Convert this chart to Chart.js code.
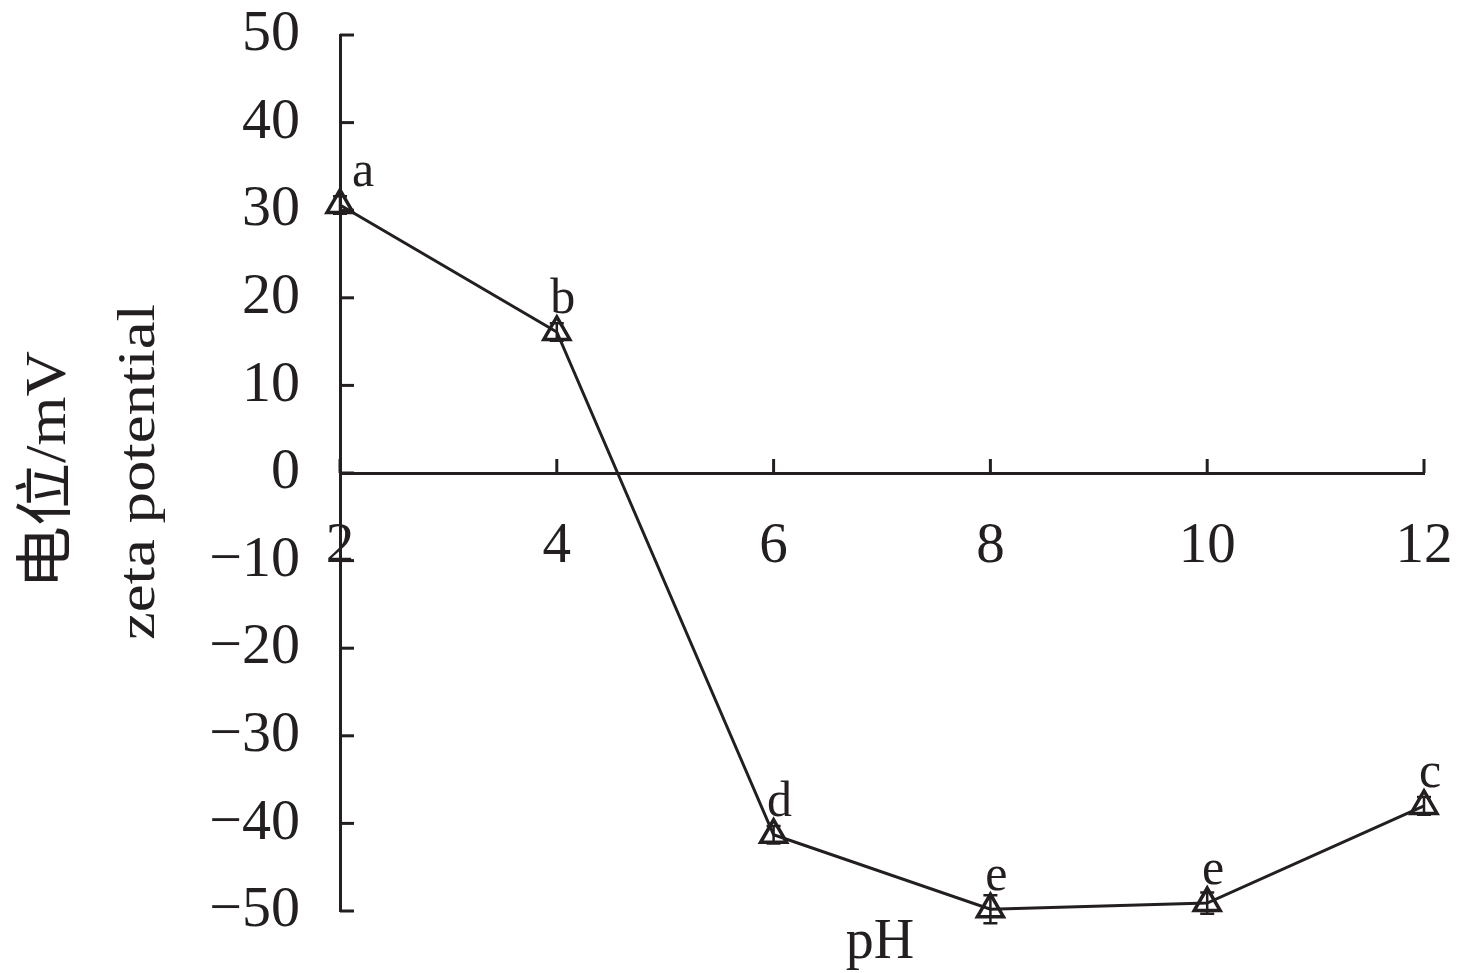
<!DOCTYPE html>
<html>
<head>
<meta charset="utf-8">
<script src="https://cdn.jsdelivr.net/npm/chart.js@4"></script>
<style>
html,body{margin:0;padding:0;background:#fff;}
#wrap{width:1476px;height:973px;}
</style>
</head>
<body>
<div id="wrap"><canvas id="grafico" width="1476" height="973"></canvas></div>
<script>
// dados
const phValues = [2, 4, 6, 8, 10, 12];
const zeta = [30.6, 16.1, -41.3, -49.8, -49.1, -38.0];
const errs = [1.0, 1.0, 1.0, 1.6, 1.2, 1.0];
const letters = ["a", "b", "d", "e", "e", "c"];
const xTicks = [2, 4, 6, 8, 10, 12];
const yTicks = [50, 40, 30, 20, 10, 0, -10, -20, -30, -40, -50];

const serif = "'Liberation Serif', 'Times New Roman', 'Noto Sans CJK SC', serif";
const ink = "#231f20";

// ticks para dentro, barras de erro, letras e títulos
const extras = {
  id: "extras",
  afterDatasetsDraw(chart) {
    const c = chart.ctx;
    const xs = chart.scales.x, ys = chart.scales.y;
    const left = chart.chartArea.left;
    const y0 = ys.getPixelForValue(0);
    c.save();
    c.strokeStyle = ink;
    c.lineWidth = 3;
    yTicks.forEach(v => {
      const py = ys.getPixelForValue(v);
      c.beginPath(); c.moveTo(left, py); c.lineTo(left + 14, py); c.stroke();
    });
    xTicks.forEach(v => {
      const px = xs.getPixelForValue(v);
      c.beginPath(); c.moveTo(px, y0); c.lineTo(px, y0 - 14); c.stroke();
    });
    // barras de erro
    c.lineWidth = 2.5;
    phValues.forEach((x, i) => {
      const px = xs.getPixelForValue(x);
      const hi = ys.getPixelForValue(zeta[i] + errs[i]);
      const lo = ys.getPixelForValue(zeta[i] - errs[i]);
      c.beginPath();
      c.moveTo(px, hi); c.lineTo(px, lo);
      c.moveTo(px - 7, hi); c.lineTo(px + 7, hi);
      c.moveTo(px - 7, lo); c.lineTo(px + 7, lo);
      c.stroke();
    });
    // letras
    c.fillStyle = ink;
    c.font = "50px " + serif;
    c.textAlign = "center";
    c.textBaseline = "alphabetic";
    phValues.forEach((x, i) => {
      const px = xs.getPixelForValue(x);
      const py = ys.getPixelForValue(zeta[i]);
      c.fillText(letters[i], px + (i === 0 ? 23 : 6), py - 19);
    });
    // título x
    c.font = "56px " + serif;
    c.fillText("pH", 880, 958);
    // título y (duas linhas, girado)
    const vtext = (txt, cx, cy, size, len) => {
      c.save();
      c.font = size + "px " + serif;
      const w = c.measureText(txt).width;
      c.translate(cx, cy);
      c.rotate(-Math.PI / 2);
      c.scale(len / w, 1);
      c.textAlign = "center";
      c.textBaseline = "middle";
      c.fillText(txt, 0, 0);
      c.restore();
    };
    vtext("电位/mV", 50, 470, 58, 238);
    vtext("zeta potential", 140, 472, 52, 336);
    c.restore();
  }
};

const ctx = document.getElementById("grafico");

new Chart(ctx, {
  type: "line",
  data: {
    datasets: [{
      data: phValues.map((x, i) => ({ x: x, y: zeta[i] })),
      borderColor: ink,
      borderWidth: 3,
      tension: 0,
      pointStyle: "triangle",
      pointRadius: 15,
      pointBorderWidth: 3.5,
      pointBorderColor: ink,
      pointBackgroundColor: "rgba(0,0,0,0)"
    }]
  },
  options: {
    responsive: false,
    animation: false,
    clip: false,
    layout: { padding: { left: 0, right: 52, top: 35, bottom: 62 } },
    plugins: { legend: { display: false }, tooltip: { enabled: false } },
    scales: {
      x: {
        type: "linear",
        position: { y: 0 },
        min: 2, max: 12,
        afterBuildTicks: s => { s.ticks = xTicks.map(v => ({ value: v })); },
        afterFit: s => { s.paddingLeft = 0; s.paddingRight = 0; },
        grid: { display: false, drawTicks: false },
        border: { display: true, color: ink, width: 3 },
        ticks: {
          color: ink,
          font: { family: serif, size: 57 },
          padding: 40,
          maxRotation: 0,
          callback: v => String(v)
        }
      },
      y: {
        min: -50, max: 50,
        afterBuildTicks: s => { s.ticks = yTicks.map(v => ({ value: v })); },
        afterFit: s => { s.width = 340; s.paddingTop = 0; s.paddingBottom = 0; },
        grid: { display: false, drawTicks: false },
        border: { display: true, color: ink, width: 3 },
        ticks: {
          color: ink,
          font: { family: serif, size: 58 },
          padding: 40,
          callback: v => String(v).replace("-", "\u2212")
        }
      }
    }
  },
  plugins: [extras]
});
</script>
</body>
</html>
